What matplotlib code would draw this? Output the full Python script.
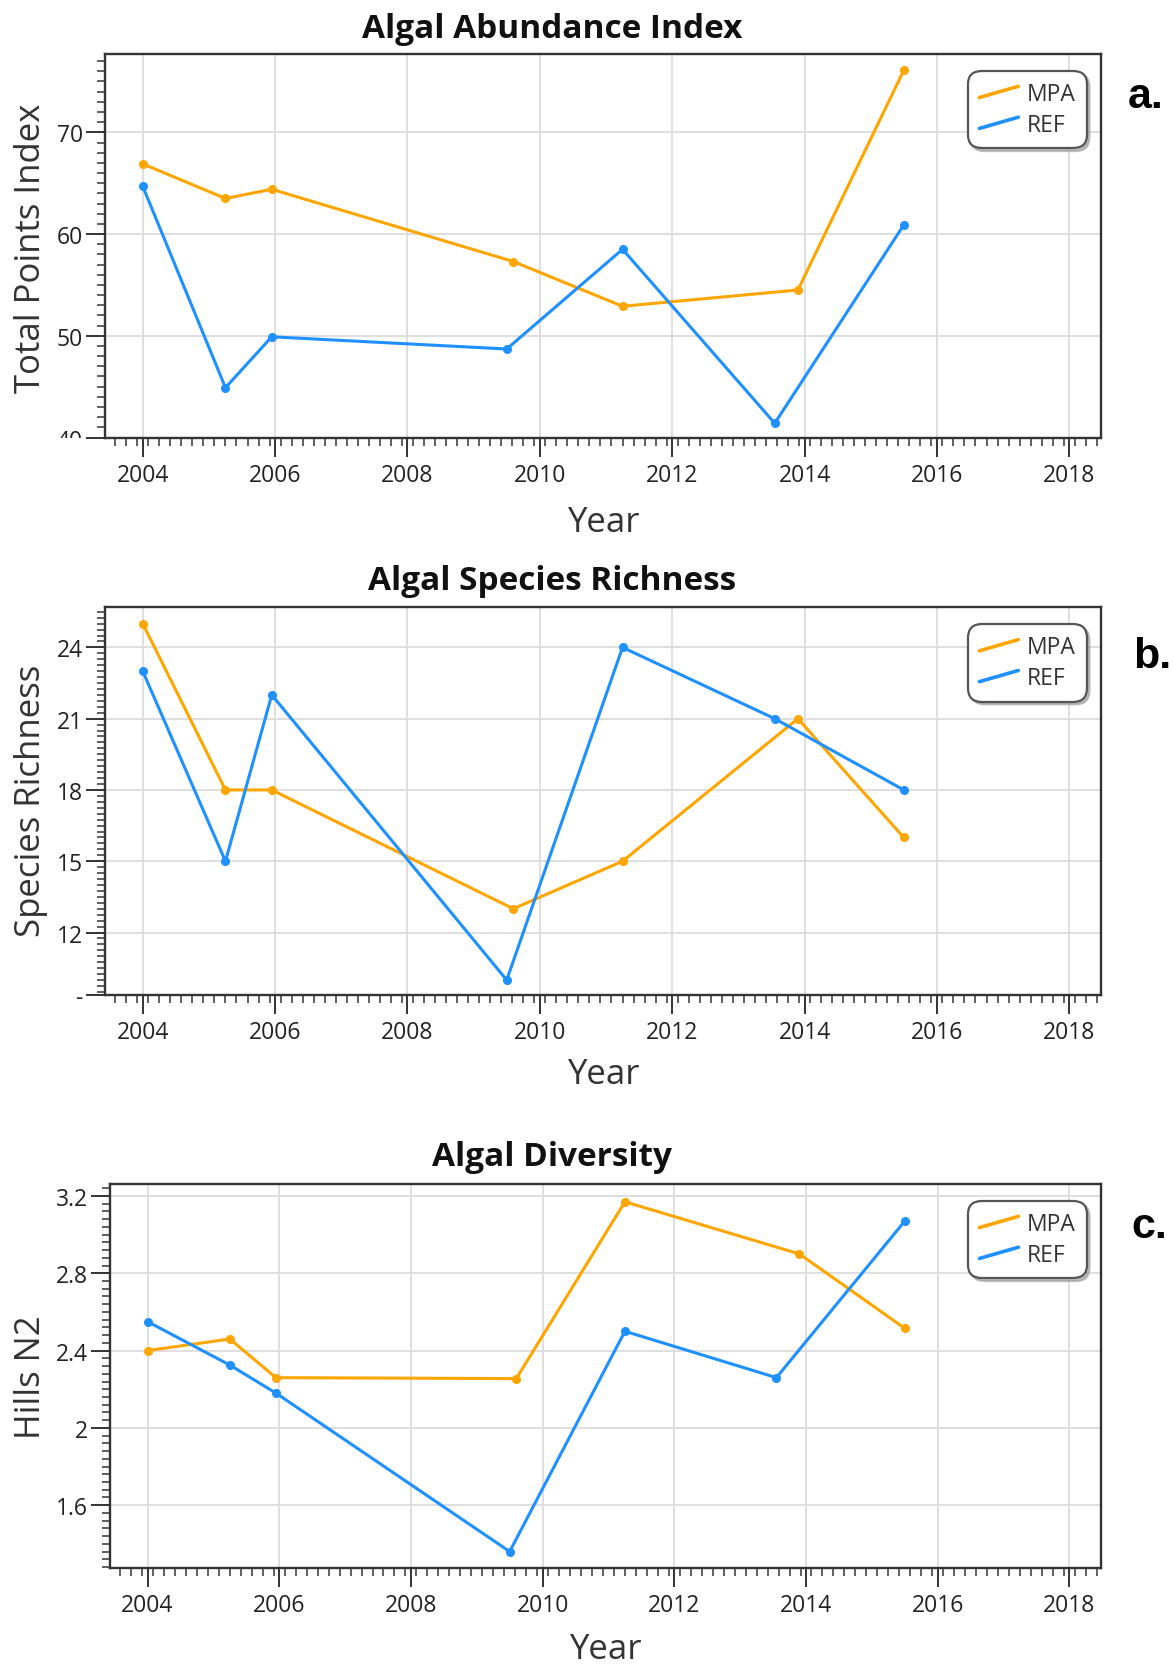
import matplotlib
matplotlib.use('Agg')
import matplotlib.pyplot as plt
from matplotlib.ticker import MultipleLocator, FixedLocator, FixedFormatter
from matplotlib.legend_handler import HandlerBase
from matplotlib.lines import Line2D
from matplotlib.transforms import Bbox, TransformedBbox

# ---------------- data ----------------
years_mpa = [2004.0, 2005.25, 2005.95, 2009.6, 2011.25, 2013.9, 2015.5]
years_ref = [2004.0, 2005.25, 2005.95, 2009.5, 2011.25, 2013.55, 2015.5]

abund_mpa = [66.9, 63.5, 64.4, 57.3, 52.9, 54.5, 76.1]
abund_ref = [64.7, 44.9, 49.9, 48.7, 58.5, 41.4, 60.9]

rich_mpa = [25, 18, 18, 13, 15, 21, 16]
rich_ref = [23, 15, 22, 10, 24, 21, 18]

div_mpa = [2.40, 2.46, 2.26, 2.255, 3.17, 2.90, 2.515]
div_ref = [2.55, 2.325, 2.18, 1.36, 2.50, 2.26, 3.07]

series_names = ["MPA", "REF"]
titles = ["Algal Abundance Index", "Algal Species Richness", "Algal Diversity"]
ylabels = ["Total Points Index", "Species Richness", "Hills N2"]
panel_letters = ["a.", "b.", "c."]
x_ticks = [2004, 2006, 2008, 2010, 2012, 2014, 2016, 2018]

COL_MPA = "#FFA500"
COL_REF = "#1E90FF"
FONT = ["Open Sans", "DejaVu Sans"]
plt.rcParams['font.family'] = FONT

W, H = 1174, 1665
fig = plt.figure(figsize=(W / 100, H / 100), dpi=100)


def fx(px):
    return px / W


def fy(py):
    return 1 - py / H


class SlantHandler(HandlerBase):
    def create_artists(self, legend, orig_handle, xdescent, ydescent,
                       width, height, fontsize, trans):
        x0 = -xdescent
        y0 = -ydescent
        ln = Line2D([x0, x0 + width], [y0 + 0.15 * height, y0 + 0.85 * height],
                    color=orig_handle.get_color(), lw=orig_handle.get_linewidth(),
                    solid_capstyle='round', transform=trans)
        return [ln]


panels = [
    dict(box=(105, 55, 1101, 438.5), ylim=(40, 77.7), yticks=[40, 50, 60, 70],
         ylabels_txt=["40", "50", "60", "70"], yminor=1.0,
         mpa=abund_mpa, ref=abund_ref, title_y=29, yl_y=248, year_y=523,
         letter=(1128, 97)),
    dict(box=(105, 608, 1101, 996), ylim=(9.37, 25.7), yticks=[9.37, 12, 15, 18, 21, 24],
         ylabels_txt=["-", "12", "15", "18", "21", "24"], yminor=0.25,
         mpa=rich_mpa, ref=rich_ref, title_y=582, yl_y=801, year_y=1075,
         letter=(1133, 657)),
    dict(box=(110, 1185, 1101, 1569), ylim=(1.275, 3.262), yticks=[1.6, 2.0, 2.4, 2.8, 3.2],
         ylabels_txt=["1.6", "2", "2.4", "2.8", "3.2"], yminor=0.04,
         mpa=div_mpa, ref=div_ref, title_y=1158, yl_y=1377, year_y=1650,
         letter=(1131, 1227)),
]

for i, p in enumerate(panels):
    l, t, r, b = p['box']
    ax = fig.add_axes([fx(l), fy(b), fx(r - l), (b - t) / H])
    ax.set_xlim(2003.43, 2018.48)
    ax.set_ylim(*p['ylim'])

    ax.plot(years_mpa, p['mpa'], color=COL_MPA, lw=2.2, marker='o', ms=5.5,
            label=series_names[0], zorder=3, clip_on=False)
    ax.plot(years_ref, p['ref'], color=COL_REF, lw=2.2, marker='o', ms=5.5,
            label=series_names[1], zorder=3, clip_on=False)

    ax.xaxis.set_major_locator(FixedLocator(x_ticks))
    ax.xaxis.set_minor_locator(MultipleLocator(1 / 6, offset=1 / 12))
    ax.yaxis.set_major_locator(FixedLocator(p['yticks']))
    ax.yaxis.set_major_formatter(FixedFormatter(p['ylabels_txt']))
    ax.yaxis.set_minor_locator(MultipleLocator(p['yminor']))

    ax.tick_params(axis='both', which='major', direction='out', length=14,
                   width=1.4, colors='#333333', labelsize=16.5, labelcolor='#222222')
    ax.tick_params(axis='both', which='minor', direction='out', length=6,
                   width=1.2, colors='#444444')
    ax.tick_params(axis='x', which='major', pad=4)
    ax.tick_params(axis='y', which='major', pad=2)

    ax.grid(True, which='major', color='#dcdcdc', lw=1.3, zorder=0)
    ax.set_axisbelow(True)
    for s in ax.spines.values():
        s.set_color('#333333')
        s.set_linewidth(1.7)

    # legend
    leg = ax.legend(handler_map={Line2D: SlantHandler()}, loc='upper right',
                    bbox_to_anchor=(0.981, 0.945), fontsize=16.5, frameon=True,
                    fancybox=True, handlelength=1.7, handletextpad=0.35,
                    borderpad=0.3, labelspacing=0.3, borderaxespad=0,
                    shadow={'ox': 2, 'oy': -2, 'color': '#999999', 'alpha': 0.6})
    fr = leg.get_frame()
    fr.set_edgecolor('#555555')
    fr.set_linewidth(1.6)
    fr.set_facecolor('white')
    fr.set_alpha(1)
    fr.set_boxstyle('round,pad=0.2,rounding_size=0.6')
    for txt in leg.get_texts():
        txt.set_color('#333333')
    for ln in leg.get_lines():
        ln.set_linewidth(2.6)

    # clip bottom tick label of panel a (partially cut in original)
    if i == 0:
        fig.canvas.draw()
        clipbb = TransformedBbox(Bbox([[0, fy(b)], [fx(l), 1]]), fig.transFigure)
        for lab in ax.get_yticklabels():
            if lab.get_text() == "40":
                lab.set_clip_box(clipbb)
                lab.set_clip_on(True)

    # title, axis labels, panel letter
    fig.text(fx(552), fy(p['title_y']), titles[i], ha='center', va='center',
             fontsize=24, fontweight='bold', color='#111111')
    fig.text(fx(31), fy(p['yl_y']), ylabels[i], rotation=90, ha='center',
             va='center', fontsize=25, color='#333333')
    fig.text(fx((l + r) / 2), fy(p['year_y']), "Year", ha='center', va='center',
             fontsize=25, color='#333333')
    fig.text(fx(p['letter'][0]), fy(p['letter'][1]), panel_letters[i], ha='left',
             va='center', fontsize=31, fontweight='bold', color='black',
             family=['Liberation Sans', 'DejaVu Sans'])

fig.savefig("out.png", dpi=100)
